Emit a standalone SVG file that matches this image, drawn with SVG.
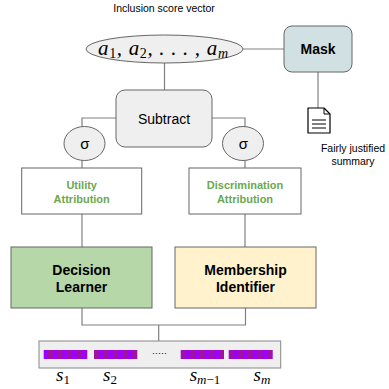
<svg xmlns="http://www.w3.org/2000/svg" width="389" height="389" viewBox="0 0 389 389">
<style>
.lbl{font-family:"Liberation Sans",Arial,sans-serif;fill:#000}
.math{font-family:"Liberation Serif","Times New Roman",serif;font-style:italic;fill:#000}
.sub{font-style:normal}
.grn{font-family:"Liberation Sans",Arial,sans-serif;font-weight:bold;font-size:11px;fill:#6aa84f}
.conn{fill:none;stroke:#808080;stroke-width:1.2}
.box{stroke:#666;stroke-width:1}
</style>
<defs>
<pattern id="stripe" patternUnits="userSpaceOnUse" x="0" y="0" width="9.6" height="10">
<rect x="0" y="0" width="4.8" height="10" fill="#a0129f"/>
<rect x="4.8" y="0" width="4.8" height="10" fill="#9b00ff"/>
</pattern>
</defs>
<rect width="389" height="389" fill="#fff"/>
<g id="connectors">
<line class="conn" x1="243" y1="49" x2="284" y2="49"/>
<line class="conn" x1="318" y1="72" x2="318" y2="108"/>
<line class="conn" x1="164.5" y1="63" x2="164.5" y2="90"/>
<polyline class="conn" points="116,118 82,118 82,127"/>
<polyline class="conn" points="212,118 245,118 245,127"/>
<line class="conn" x1="82" y1="160" x2="82" y2="168"/>
<line class="conn" x1="245" y1="160" x2="245" y2="168"/>
<line class="conn" x1="82" y1="214" x2="82" y2="247"/>
<line class="conn" x1="245" y1="214" x2="245" y2="247"/>
<polyline class="conn" points="82,308 82,325 245.5,325 245.5,308"/>
<line class="conn" x1="158.7" y1="325" x2="158.7" y2="341"/>
</g>
<text class="lbl" x="164" y="12" font-size="10.5" text-anchor="middle">Inclusion score vector</text>
<g id="vector">
<ellipse cx="164.5" cy="49" rx="78.5" ry="14" fill="#efefef" stroke="#666"/>
<text class="math" x="98" y="55" font-size="21" textLength="130" lengthAdjust="spacing">a<tspan class="sub" font-size="14" dy="3">1</tspan><tspan dy="-3">, a</tspan><tspan class="sub" font-size="14" dy="3">2</tspan><tspan dy="-3">, . . . , a</tspan><tspan font-size="14" dy="3">m</tspan></text>
</g>
<g id="mask">
<rect class="box" x="284" y="26" width="68" height="46" rx="8" fill="#d0e0e3"/>
<text class="lbl" x="318" y="54" font-size="14" font-weight="bold" text-anchor="middle">Mask</text>
</g>
<g id="summary">
<path d="M308,108 H324 L330,114 V133 H308 Z" fill="#fff" stroke="#000" stroke-width="1.2" stroke-linejoin="round"/>
<path d="M324,108 V114 H330" fill="none" stroke="#000" stroke-width="1"/>
<line x1="312" y1="120" x2="326" y2="120" stroke="#000" stroke-width="1"/>
<line x1="312" y1="124" x2="326" y2="124" stroke="#000" stroke-width="1"/>
<line x1="312" y1="128" x2="326" y2="128" stroke="#000" stroke-width="1"/>
<text class="lbl" x="353" y="152" font-size="10.5" text-anchor="middle">Fairly justified</text>
<text class="lbl" x="353" y="165" font-size="10.5" text-anchor="middle">summary</text>
</g>
<g id="subtract">
<rect class="box" x="116" y="90" width="96" height="57" rx="9" fill="#efefef"/>
<text class="lbl" x="164" y="124" font-size="14" text-anchor="middle">Subtract</text>
</g>
<g id="sigma-left">
<ellipse cx="84.5" cy="143.5" rx="20.5" ry="17" fill="#efefef" stroke="#666"/>
<text class="lbl" x="85" y="149" font-size="15" text-anchor="middle">σ</text>
</g>
<g id="sigma-right">
<ellipse cx="243" cy="143.5" rx="20.5" ry="17" fill="#efefef" stroke="#666"/>
<text class="lbl" x="243.5" y="149" font-size="15" text-anchor="middle">σ</text>
</g>
<g id="utility">
<rect class="box" x="21.7" y="168" width="120" height="46" fill="#fff"/>
<text class="grn" x="81.7" y="189" text-anchor="middle">Utility</text>
<text class="grn" x="81.7" y="202.5" text-anchor="middle">Attribution</text>
</g>
<g id="discrimination">
<rect class="box" x="189" y="168" width="112" height="46" fill="#fff"/>
<text class="grn" x="245" y="189" text-anchor="middle">Discrimination</text>
<text class="grn" x="245" y="202.5" text-anchor="middle">Attribution</text>
</g>
<g id="decision">
<rect class="box" x="11" y="247" width="141" height="61" fill="#b6d7a8"/>
<text class="lbl" x="81.5" y="275" font-size="14" font-weight="bold" text-anchor="middle">Decision</text>
<text class="lbl" x="81.5" y="291.5" font-size="14" font-weight="bold" text-anchor="middle">Learner</text>
</g>
<g id="membership">
<rect class="box" x="175" y="247" width="141" height="61" fill="#fff2cc"/>
<text class="lbl" x="245.5" y="275" font-size="14" font-weight="bold" text-anchor="middle">Membership</text>
<text class="lbl" x="245.5" y="291.5" font-size="14" font-weight="bold" text-anchor="middle">Identifier</text>
</g>
<g id="sentences">
<rect x="39" y="341" width="241.7" height="27" fill="#efefef" stroke="#888" stroke-width="1"/>
<rect x="43.7" y="350" width="43.6" height="9" fill="url(#stripe)"/>
<g transform="translate(94,0)"><rect x="0" y="350" width="43.3" height="9" fill="url(#stripe)"/></g>
<text class="lbl" x="159.5" y="356" font-size="9" text-anchor="middle">·····</text>
<g transform="translate(180.7,0)"><rect x="0" y="350" width="43.3" height="9" fill="url(#stripe)"/></g>
<g transform="translate(228.7,0)"><rect x="0" y="350" width="44" height="9" fill="url(#stripe)"/></g>
<text class="math" x="63" y="381" font-size="19" text-anchor="middle">s<tspan class="sub" font-size="13" dy="3">1</tspan></text>
<text class="math" x="110" y="381" font-size="19" text-anchor="middle">s<tspan class="sub" font-size="13" dy="3">2</tspan></text>
<text class="math" x="205" y="381" font-size="19" text-anchor="middle">s<tspan font-size="13" dy="3">m<tspan class="sub">−1</tspan></tspan></text>
<text class="math" x="262" y="381" font-size="19" text-anchor="middle">s<tspan font-size="13" dy="3">m</tspan></text>
</g>
</svg>
